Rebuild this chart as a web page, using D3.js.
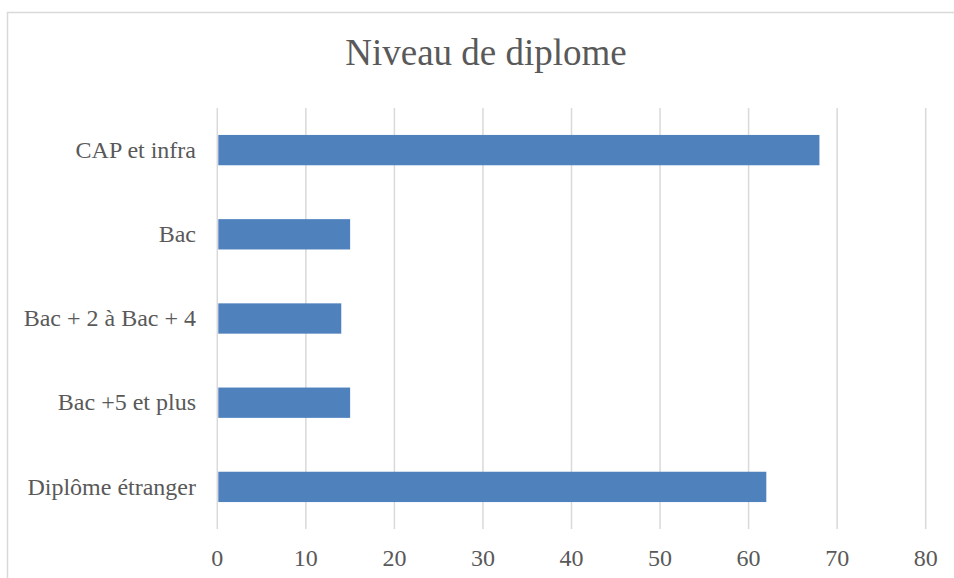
<!DOCTYPE html>
<html>
<head>
<meta charset="utf-8">
<script src="https://cdn.jsdelivr.net/npm/d3@7"></script>
<style>
  body { margin: 0; background: #fff; }
  text { font-family: "Liberation Serif", "Times New Roman", serif; fill: #595959; }
</style>
</head>
<body>
<div id="chart"></div>
<script>
// data
const title = "Niveau de diplome"
const categories = ["CAP et infra", "Bac", "Bac + 2 à Bac + 4", "Bac +5 et plus", "Diplôme étranger"]
const values = [68, 15, 14, 15, 62]
const xTicks = [0, 10, 20, 30, 40, 50, 60, 70, 80]

const width = 954,
      height = 578

const svg = d3.select("#chart")
              .append("svg")
              .attr("width", width)
              .attr("height", height)

// chart border
svg.append("rect")
   .attr("x", 7.5)
   .attr("y", 12.5)
   .attr("width", 960)
   .attr("height", 600)
   .attr("fill", "none")
   .attr("stroke", "#d9d9d9")
   .attr("stroke-width", 1.5)

svg.append("text")
   .attr("x", 486)
   .attr("y", 65)
   .attr("text-anchor", "middle")
   .style("font-size", "37px")
   .text(title)

const x = d3.scaleLinear()
            .domain([0, 80])
            .range([217.3, 925.7])

const y = d3.scaleBand()
            .domain(categories)
            .range([108, 529])
            .paddingInner(0.64)
            .paddingOuter(0.32)

// gridlines
svg.append("g")
   .selectAll("line")
   .data(xTicks)
   .join("line")
     .attr("x1", d => x(d))
     .attr("x2", d => x(d))
     .attr("y1", 108)
     .attr("y2", 529)
     .attr("stroke", "#d9d9d9")
     .attr("stroke-width", 1.5)

// bars
svg.append("g")
   .selectAll("rect")
   .data(categories)
   .join("rect")
     .attr("x", x(0) + 1)
     .attr("y", d => y(d))
     .attr("width", (d, i) => x(values[i]) - x(0) - 1)
     .attr("height", y.bandwidth())
     .attr("fill", "#4f81bd")

// category labels
svg.append("g")
   .selectAll("text")
   .data(categories)
   .join("text")
     .attr("x", 196)
     .attr("y", d => y(d) + y.bandwidth() / 2)
     .attr("dy", "0.32em")
     .attr("text-anchor", "end")
     .style("font-size", "24px")
     .text(d => d)

// x tick labels
svg.append("g")
   .selectAll("text")
   .data(xTicks)
   .join("text")
     .attr("x", d => x(d))
     .attr("y", 566)
     .attr("text-anchor", "middle")
     .style("font-size", "24px")
     .text(d => d)
</script>
</body>
</html>
